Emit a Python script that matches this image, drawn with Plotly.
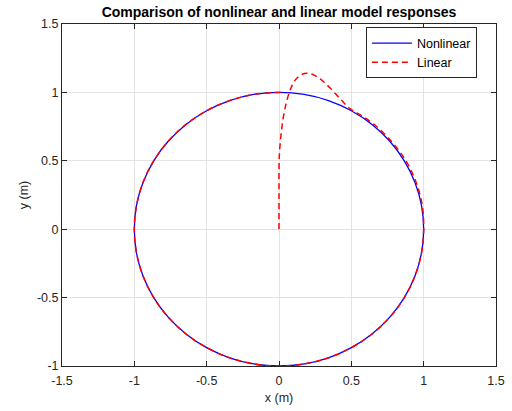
import plotly.graph_objects as go

# Trajectory of the nonlinear model (m)
nonlinear_x = [0.0, 0.174, 0.342, 0.5, 0.643, 0.766, 0.866, 0.94, 0.985, 1.0,
               0.985, 0.94, 0.866, 0.766, 0.643, 0.5, 0.342, 0.174, 0.0,
               -0.174, -0.342, -0.5, -0.643, -0.766, -0.866, -0.94, -0.985, -1.0,
               -0.985, -0.94, -0.866, -0.766, -0.643, -0.5, -0.342, -0.174, 0.0]
nonlinear_y = [1.0, 0.985, 0.94, 0.866, 0.766, 0.643, 0.5, 0.342, 0.174, 0.0,
               -0.174, -0.342, -0.5, -0.643, -0.766, -0.866, -0.94, -0.985, -1.0,
               -0.985, -0.94, -0.866, -0.766, -0.643, -0.5, -0.342, -0.174, 0.0,
               0.174, 0.342, 0.5, 0.643, 0.766, 0.866, 0.94, 0.985, 1.0]

# Trajectory of the linearised model (m)
linear_x = [0.0, 0.0, 0.001, 0.006, 0.015, 0.027, 0.045, 0.065, 0.09, 0.12,
            0.16, 0.2, 0.245, 0.3, 0.36, 0.425, 0.49, 0.57, 0.655, 0.775,
            0.877, 0.947, 0.99, 1.0, 0.985, 0.94, 0.866, 0.766, 0.643, 0.5,
            0.342, 0.174, 0.0, -0.174, -0.342, -0.5, -0.643, -0.766, -0.866,
            -0.94, -0.985, -1.0, -0.985, -0.94, -0.866, -0.766, -0.643, -0.5,
            -0.342, -0.174, 0.0, 0.03]
linear_y = [0.0, 0.25, 0.5, 0.6, 0.7, 0.8, 0.9, 0.98, 1.05, 1.1,
            1.133, 1.14, 1.125, 1.085, 1.025, 0.95, 0.882, 0.83, 0.768, 0.645,
            0.5, 0.345, 0.175, 0.0, -0.174, -0.342, -0.5, -0.643, -0.766, -0.866,
            -0.94, -0.985, -1.0, -0.985, -0.94, -0.866, -0.766, -0.643, -0.5,
            -0.342, -0.174, 0.0, 0.174, 0.342, 0.5, 0.643, 0.766, 0.866,
            0.94, 0.985, 1.0, 1.0]

x_ticks = [-1.5, -1, -0.5, 0, 0.5, 1, 1.5]
y_ticks = [-1, -0.5, 0, 0.5, 1, 1.5]

FONT = "Liberation Sans, Arial, sans-serif"
INK = "#262626"

fig = go.Figure()
fig.add_trace(go.Scatter(
    x=nonlinear_x, y=nonlinear_y, mode="lines", name="Nonlinear",
    line=dict(color="#0000ff", width=1.3, shape="spline", smoothing=1.0),
))
fig.add_trace(go.Scatter(
    x=linear_x, y=linear_y, mode="lines", name="Linear",
    line=dict(color="#ff0000", width=1.5, dash="6px,4px", shape="spline", smoothing=1.0),
))

axis_common = dict(
    automargin=False,
    showgrid=True, gridcolor="#e3e3e3", gridwidth=1,
    zeroline=False, showline=True, linecolor=INK, linewidth=1,
    mirror="ticks", ticks="inside", ticklen=5, tickcolor=INK,
    tickfont=dict(family=FONT, size=12.5, color=INK),
)

fig.update_layout(
    template="none",
    width=512, height=411,
    margin=dict(l=62, r=16, t=24, b=45),
    paper_bgcolor="white", plot_bgcolor="white",
    title=dict(
        text="<b>Comparison of nonlinear and linear model responses</b>",
        xref="paper", x=0.5, xanchor="center",
        yref="container", y=0.971, yanchor="middle",
        font=dict(family=FONT, size=14, color="black"),
    ),
    xaxis=dict(
        range=[-1.5, 1.5], tickvals=x_ticks, ticktext=[f"{v:g}" for v in x_ticks],
        ticklabelstandoff=3,
        title=dict(text="x (m)", standoff=6, font=dict(family=FONT, size=12.5, color=INK)),
        **axis_common,
    ),
    yaxis=dict(
        range=[-1, 1.5], tickvals=y_ticks, ticktext=[f"{v:g}" for v in y_ticks],
        title=dict(text="y (m)", standoff=5, font=dict(family=FONT, size=12.5, color=INK)),
        **axis_common,
    ),
    legend=dict(
        x=0.956, y=0.99, xanchor="right", yanchor="top",
        bgcolor="white", bordercolor=INK, borderwidth=1,
        font=dict(family=FONT, size=12.5, color="black"),
        itemwidth=40, tracegroupgap=0,
    ),
    showlegend=True,
)

fig.write_html("out.html")
